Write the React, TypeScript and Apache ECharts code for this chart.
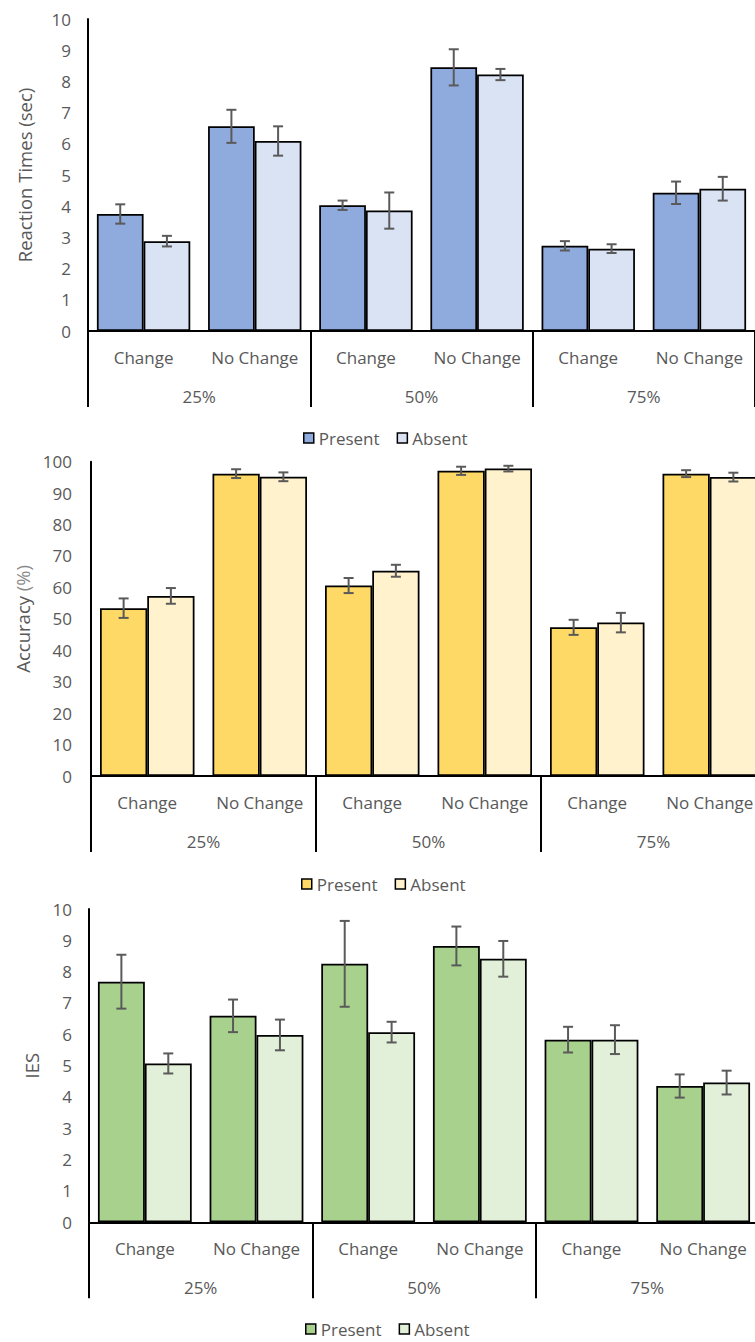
import React, { useEffect, useRef } from "react";
import * as echarts from "echarts";

const categories = ["Change", "No Change", "Change", "No Change", "Change", "No Change"];
const groups = ["25%", "50%", "75%"];
const legendNames = ["Present", "Absent"];

const rtPresent = [3.75, 6.56, 4.03, 8.45, 2.73, 4.43];
const rtPresentErr = [0.31, 0.53, 0.15, 0.58, 0.15, 0.36];
const rtAbsent = [2.88, 6.09, 3.86, 8.22, 2.64, 4.56];
const rtAbsentErr = [0.17, 0.47, 0.58, 0.18, 0.14, 0.38];

const accPresent = [53.4, 96.2, 60.6, 97.1, 47.3, 96.2];
const accPresentErr = [3.1, 1.4, 2.4, 1.3, 2.4, 1.1];
const accAbsent = [57.3, 95.2, 65.3, 97.8, 48.8, 95.1];
const accAbsentErr = [2.5, 1.4, 1.9, 0.9, 3.1, 1.4];

const iesPresent = [7.68, 6.59, 8.25, 8.82, 5.83, 4.35];
const iesPresentErr = [0.86, 0.52, 1.37, 0.62, 0.41, 0.37];
const iesAbsent = [5.07, 5.98, 6.07, 8.41, 5.83, 4.46];
const iesAbsentErr = [0.32, 0.49, 0.33, 0.57, 0.46, 0.38];

const FONT = "Open Sans";
const TXT = "#595959";
const GAP = 0.16;
const FS = 17;
const TITLE_FS = 18.5;

type PanelCfg = {
  top: number;
  height: number;
  grid: { left: number; top: number; width: number; height: number };
  yMax: number;
  yInterval: number;
  yName: any;
  yNameGap: number;
  yNameRich?: any;
  yLabelMargin: number;
  present: number[];
  presentErr: number[];
  absent: number[];
  absentErr: number[];
  colors: [string, string];
  legendTop: number;
  legendLeft: number;
};

function errSeries(name: string, vals: number[], errs: number[], sign: number) {
  return {
    type: "custom",
    name,
    xAxisIndex: 0,
    yAxisIndex: 0,
    z: 10,
    silent: true,
    data: vals.map((v, i) => [i, v, errs[i]]),
    encode: { x: 0, y: 1 },
    renderItem: (params: any, api: any) => {
      const idx = api.value(0);
      const v = api.value(1);
      const e = api.value(2);
      const c = api.coord([idx, v]);
      const catW = api.size([1, 0])[0];
      const bw = (catW * (1 - GAP)) / 2;
      const x = c[0] + (sign * bw) / 2;
      const yt = api.coord([idx, v + e])[1];
      const yb = api.coord([idx, v - e])[1];
      const cap = 5;
      const st = { stroke: "#5a5a5a", lineWidth: 2 };
      return {
        type: "group",
        children: [
          { type: "line", shape: { x1: x, y1: yt, x2: x, y2: yb }, style: st },
          { type: "line", shape: { x1: x - cap, y1: yt, x2: x + cap, y2: yt }, style: st },
          { type: "line", shape: { x1: x - cap, y1: yb, x2: x + cap, y2: yb }, style: st },
        ],
      };
    },
  };
}

function Panel({ cfg }: { cfg: PanelCfg }) {
  const ref = useRef<HTMLDivElement>(null);
  useEffect(() => {
    if (!ref.current) return;
    const chart = echarts.init(ref.current, null, { renderer: "svg" });
    const option: any = {
      animation: false,
      backgroundColor: "transparent",
      textStyle: { fontFamily: FONT },
      grid: { ...cfg.grid, containLabel: false },
      legend: {
        data: legendNames,
        top: cfg.legendTop,
        left: cfg.legendLeft,
        icon: "rect",
        itemWidth: 10,
        itemHeight: 10,
        itemGap: 17,
        itemStyle: { borderColor: "#000", borderWidth: 1.5 },
        textStyle: { fontFamily: FONT, fontSize: FS, color: TXT },
      },
      xAxis: [
        {
          type: "category",
          data: categories,
          position: "bottom",
          axisLine: { show: true, lineStyle: { color: "#000", width: 2 } },
          axisTick: { show: false },
          axisLabel: { margin: 17.5, fontFamily: FONT, fontSize: FS, color: TXT, interval: 0 },
          splitLine: { show: false },
        },
        {
          type: "category",
          data: groups,
          position: "bottom",
          axisLine: { show: false },
          axisTick: { show: true, length: 76, lineStyle: { color: "#000", width: 2 } },
          axisLabel: { margin: 57, fontFamily: FONT, fontSize: FS, color: TXT, interval: 0 },
          splitLine: { show: false },
        },
      ],
      yAxis: {
        type: "value",
        min: 0,
        max: cfg.yMax,
        interval: cfg.yInterval,
        name: cfg.yName,
        nameLocation: "middle",
        nameGap: cfg.yNameGap,
        nameTextStyle: { fontFamily: FONT, fontSize: TITLE_FS, color: TXT, rich: cfg.yNameRich },
        axisLine: { show: true, lineStyle: { color: "#000", width: 2 } },
        axisTick: { show: false },
        axisLabel: { margin: cfg.yLabelMargin, fontFamily: FONT, fontSize: FS, color: TXT },
        splitLine: { show: false },
      },
      series: [
        {
          type: "bar",
          name: "Present",
          data: cfg.present,
          barGap: "0%",
          barCategoryGap: GAP * 100 + "%",
          itemStyle: { color: cfg.colors[0], borderColor: "#000", borderWidth: 1.75 },
        },
        {
          type: "bar",
          name: "Absent",
          data: cfg.absent,
          barGap: "0%",
          barCategoryGap: GAP * 100 + "%",
          itemStyle: { color: cfg.colors[1], borderColor: "#000", borderWidth: 1.75 },
        },
        errSeries("Present error", cfg.present, cfg.presentErr, -1),
        errSeries("Absent error", cfg.absent, cfg.absentErr, 1),
      ],
    };
    chart.setOption(option);
    return () => chart.dispose();
  }, [cfg]);
  return (
    <div
      ref={ref}
      style={{ position: "absolute", left: 0, top: cfg.top, width: 800, height: cfg.height }}
    />
  );
}

const panels: PanelCfg[] = [
  {
    top: 0,
    height: 452,
    grid: { left: 88, top: 19, width: 667, height: 312 },
    yMax: 10,
    yInterval: 1,
    yName: "Reaction Times (sec)",
    yNameGap: 54,
    yLabelMargin: 17,
    present: rtPresent,
    presentErr: rtPresentErr,
    absent: rtAbsent,
    absentErr: rtAbsentErr,
    colors: ["#8FAADC", "#DAE3F3"],
    legendTop: 424.5,
    legendLeft: 298,
  },
  {
    top: 440,
    height: 458,
    grid: { left: 91, top: 21.7, width: 675, height: 314.3 },
    yMax: 100,
    yInterval: 10,
    yName: "{a|Accuracy} {b|(%)}",
    yNameRich: {
      a: { fontFamily: FONT, fontSize: TITLE_FS, color: TXT },
      b: { fontFamily: FONT, fontSize: TITLE_FS, color: "#8a8a8a" },
    },
    yNameGap: 59,
    yLabelMargin: 19,
    present: accPresent,
    presentErr: accPresentErr,
    absent: accAbsent,
    absentErr: accAbsentErr,
    colors: ["#FFD966", "#FFF2CC"],
    legendTop: 430.5,
    legendLeft: 296,
  },
  {
    top: 886,
    height: 456,
    grid: { left: 89, top: 23, width: 670, height: 313.3 },
    yMax: 10,
    yInterval: 1,
    yName: "IES",
    yNameGap: 48,
    yLabelMargin: 17,
    present: iesPresent,
    presentErr: iesPresentErr,
    absent: iesAbsent,
    absentErr: iesAbsentErr,
    colors: ["#A9D18E", "#E2F0D9"],
    legendTop: 429.5,
    legendLeft: 300,
  },
];

export default function App() {
  return (
    <div style={{ position: "absolute", left: 0, top: 0, width: 755, height: 1342, background: "#fff", overflow: "hidden" }}>
      {panels.map((p, i) => (
        <Panel key={i} cfg={p} />
      ))}
    </div>
  );
}
